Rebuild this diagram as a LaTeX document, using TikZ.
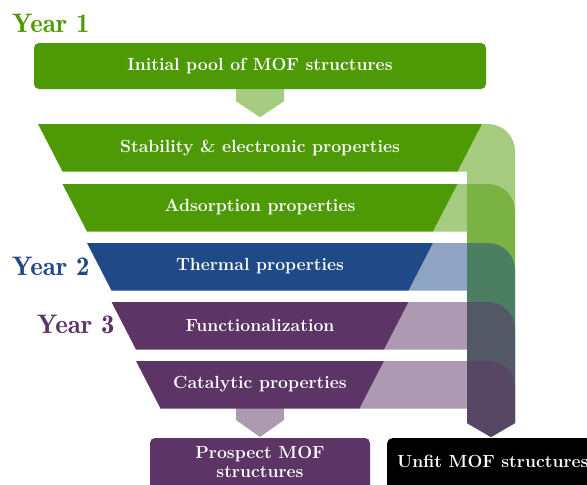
\documentclass[tikz,border=0pt]{standalone}
\definecolor{mofgreen}{HTML}{4E9A06}
\definecolor{mofblue}{HTML}{204A87}
\definecolor{mofplum}{HTML}{5C3566}
% year headings use the demi weight of Latin Modern, enlarged
\font\yearfont="[lmromandemi10-regular.otf]" at 26.8pt
\tikzset{
  stagefont/.style={font=\fontsize{17.6}{19}\selectfont\bfseries},
  stagetext/.style={stagefont, text=white, inner sep=0pt},
  yearlabel/.style={font=\yearfont, anchor=base west, inner sep=0pt},
  roundbox/.style={rounded corners=5pt, inner sep=0pt},
  passarrow/.style={fill opacity=0.5},
  rejectlayer/.style={fill opacity=0.5}
}
\begin{document}
\begin{tikzpicture}[x=1pt,y=-1pt]
\useasboundingbox (0,0) rectangle (587,485);
\clip (0,0) rectangle (587,485);

% year labels
\node[yearlabel, text=mofgreen] (y1) at (12,32) {Year 1};
\node[yearlabel, text=mofblue] (y2) at (12,275) {Year 2};
\node[yearlabel, text=mofplum] (y3) at (37,333) {Year 3};

% starting pool
\node[roundbox, fill=mofgreen, minimum width=452pt, minimum height=46pt, stagetext] (pool) at (260,66) {Initial pool of MOF structures};
\fill[mofgreen, passarrow] ([xshift=-24pt]pool.south) -- ++(0,12) -- ++(24,16) -- ++(24,-16) -- ++(0,-12) -- cycle;

% funnel stages: dark part
\foreach \yt/\L/\R/\col in {124/38/482/mofgreen, 184/62.5/457.5/mofgreen,
    243/87/433/mofblue, 302/111.5/408.5/mofplum, 361/136/384/mofplum}{
  \fill[\col] (\L,\yt) -- (\R,\yt) -- (\R-24.5,\yt+47.5) -- (\L+24.5,\yt+47.5) -- cycle;
}

% funnel stages: rejected part, stacked into the side chute
\coordinate (chutetip) at (491,437);
\foreach \yt/\R/\col in {124/482/mofgreen, 184/457.5/mofgreen,
    243/433/mofblue, 302/408.5/mofplum, 361/384/mofplum}{
  \fill[\col, rejectlayer] (\R,\yt) -- (488,\yt)
    .. controls (502.9,\yt) and (515,\yt+12.1) .. (515,\yt+27)
    -- (515,423) -- (chutetip) -- (467,423) -- (467,\yt+47.5)
    -- (\R-24.5,\yt+47.5) -- cycle;
}

% stage labels
\node[stagetext] (s1) at (260,148) {Stability \& electronic properties};
\node[stagetext] (s2) at (260,207) {Adsorption properties};
\node[stagetext] (s3) at (260,266) {Thermal properties};
\node[stagetext] (s4) at (260,325) {Functionalization};
\node[stagetext] (s5) at (260,384) {Catalytic properties};

% outputs
\coordinate (funnelout) at (260,408);
\fill[mofplum, passarrow] ([xshift=-24pt]funnelout) -- ++(0,12) -- ++(24,17) -- ++(24,-17) -- ++(0,-12) -- cycle;
\node[roundbox, fill=mofplum, minimum width=220pt, minimum height=54pt] (good) at (260,465) {};
\node[stagetext, align=center] (goodtext) at (260,462) {Prospect MOF\\structures};
\node[roundbox, fill=black, anchor=north west, minimum width=215pt, minimum height=54pt] (bad) at (387,438) {};
\node[stagetext, anchor=base west] (badtext) at (397,467) {Unfit MOF structures};
\end{tikzpicture}
\end{document}
